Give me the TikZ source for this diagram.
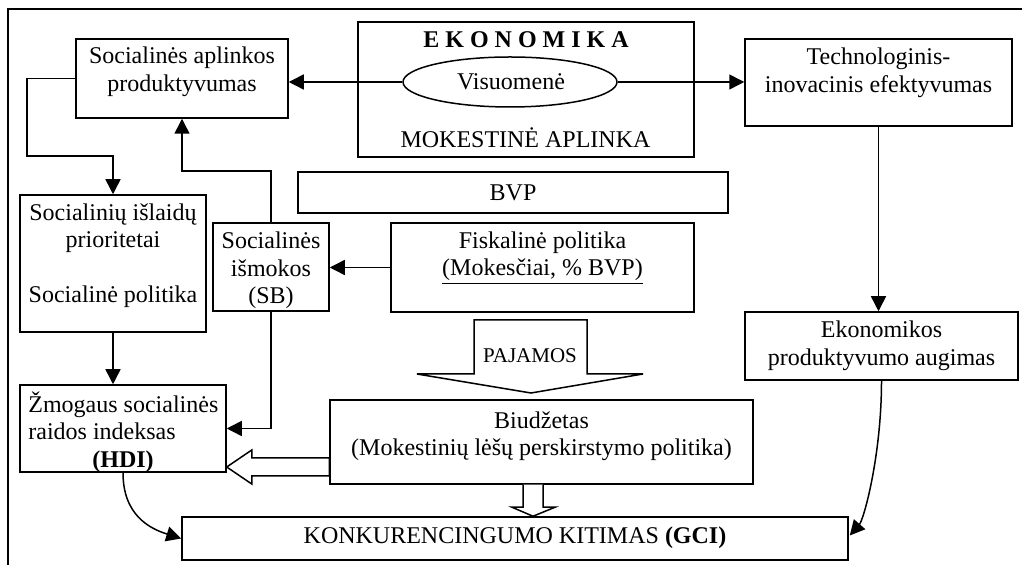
\documentclass[tikz,border=0pt]{standalone}
\usepackage{fontspec}
\setmainfont{Liberation Serif}
\usetikzlibrary{arrows.meta,calc,shapes.geometric}
\begin{document}
\begin{tikzpicture}[x=0.5pt,y=-0.5pt,
  bx/.style 2 args={draw, line width=0.75pt, inner sep=0pt, minimum width=#1, minimum height=#2},
  txt/.style={font=\fontsize{12}{13.75}\selectfont, align=center, inner sep=0pt},
  arr/.style={-{Triangle[length=7.5pt,width=7.5pt]}, line width=0.75pt},
  hollow/.style={draw, fill=white, line width=0.75pt, line join=miter}]
\useasboundingbox (0,0) rectangle (1022,565);
\clip (0,0) rectangle (1022,565);
% outer frame
\draw[line width=0.75pt] (8,600) -- (8,9) -- (1060,9);
% boxes
\node[bx={106pt}{39.5pt}] (soc) at (182,78.5) {};
\node[bx={168pt}{67.5pt}] (eko) at (526,89.5) {};
\node[draw, ellipse, line width=0.75pt, inner sep=0pt, minimum width=107pt, minimum height=25pt] (vis) at (510,82) {};
\node[bx={133.5pt}{43.5pt}] (tech) at (878.5,82.5) {};
\node[bx={215pt}{20.5pt}] (bvp) at (513,192.5) {};
\node[bx={93pt}{68.5pt}] (isl) at (113,263.5) {};
\node[bx={58pt}{44pt}] (sb) at (271,267) {};
\node[bx={151.5pt}{44.5pt}] (fisk) at (542.5,267.5) {};
\node[bx={136.5pt}{34pt}] (ekp) at (881.5,346) {};
\node[bx={103pt}{43.5pt}] (hdi) at (123,428.5) {};
\node[bx={211.5pt}{42pt}] (biud) at (541.5,442) {};
\node[bx={333pt}{21.5pt}] (konk) at (515,538.5) {};
% texts
\node[txt] (soct) at (182,72) {Socialinės aplinkos\\produktyvumas};
\node[txt] (ekot) at (526,40) {\textbf{E K O N O M I K A}};
\node[txt] (vist) at (511,82) {Visuomenė};
\node[txt] (mokt) at (525.5,138) {MOKESTINĖ APLINKA};
\node[txt] (techt) at (878.5,73) {Technologinis-\\inovacinis efektyvumas};
\node[txt] (bvpt) at (513,193) {BVP};
\node[txt] (islt) at (113,255.5) {Socialinių išlaidų\\prioritetai\\\mbox{}\\Socialinė politika};
\node[txt] (sbt) at (271,270.5) {Socialinės\\išmokos\\(SB)};
\node[txt] (fiskt) at (542.5,258) {Fiskalinė politika\\\underline{(Mokesčiai, \% BVP)}};
\node[txt] (ekpt) at (881.5,346) {Ekonomikos\\produktyvumo augimas};
\node[txt, align=left, anchor=west] (hdit) at (28,432) {Žmogaus socialinės\\raidos indeksas\\\hspace*{32pt}\textbf{(HDI)}};
\node[txt] (biudt) at (541.5,436) {Biudžetas\\(Mokestinių lėšų perskirstymo politika)};
\node[txt] (konkt) at (515,538) {KONKURENCINGUMO KITIMAS \textbf{(GCI)}};
% connectors
\coordinate (c1) at (27,156);
\draw[arr] (vis.west) -- (vis.west -| soc.east);
\draw[arr] (vis.east) -- (vis.east -| tech.west);
\draw[arr] (soc.west) -| (c1) -| (isl.north);
\draw[arr] (sb.north) -- ++(0,-51) -| (soc.south);
\draw[arr] (sb.south) |- (hdi.east);
\draw[arr] (fisk.west) -- (fisk.west -| sb.east);
\draw[arr] (isl.south) -- (isl.south |- hdi.north);
\draw[arr] (tech.south) -- (tech.south |- ekp.north);
\draw[arr] (hdi.south) .. controls +(0,42) and +(-32,-10) .. (konk.west);
\draw[arr] (ekp.south) .. controls +(0,75) and +(14,-16) .. ($(konk.east)+(1,-3)$);
% PAJAMOS block arrow
\draw[hollow] (474,320) -- (587,320) -- (587,374) -- (643,374) -- (531,393) -- (417,374) -- (474,374) -- cycle;
\node[font=\fontsize{10.5}{12}\selectfont, inner sep=0pt] (paj) at (530,356) {PAJAMOS};
% hollow arrow Biudzetas -> HDI
\coordinate (tL) at ($(hdi.east)+(0,38.5)$);
\draw[hollow] (tL) -- ++(25,-17) -- ++(0,8) -- ($(tL -| biud.west)+(0,-9)$) -- ($(tL -| biud.west)+(0,9)$) -- ($(tL)+(25,9)$) -- ($(tL)+(25,17)$) -- cycle;
% hollow arrow Biudzetas -> KONK
\coordinate (tD) at ($(konk.north)+(18,0)$);
\coordinate (dA) at ($(tD)+(-10,-9)$);
\coordinate (dB) at ($(tD)+(10,-9)$);
\draw[hollow] (dA |- biud.south) -- (dA) -- ++(-11,0) -- (tD) -- ($(dB)+(12,0)$) -- (dB) -- (dB |- biud.south);
\end{tikzpicture}
\end{document}
